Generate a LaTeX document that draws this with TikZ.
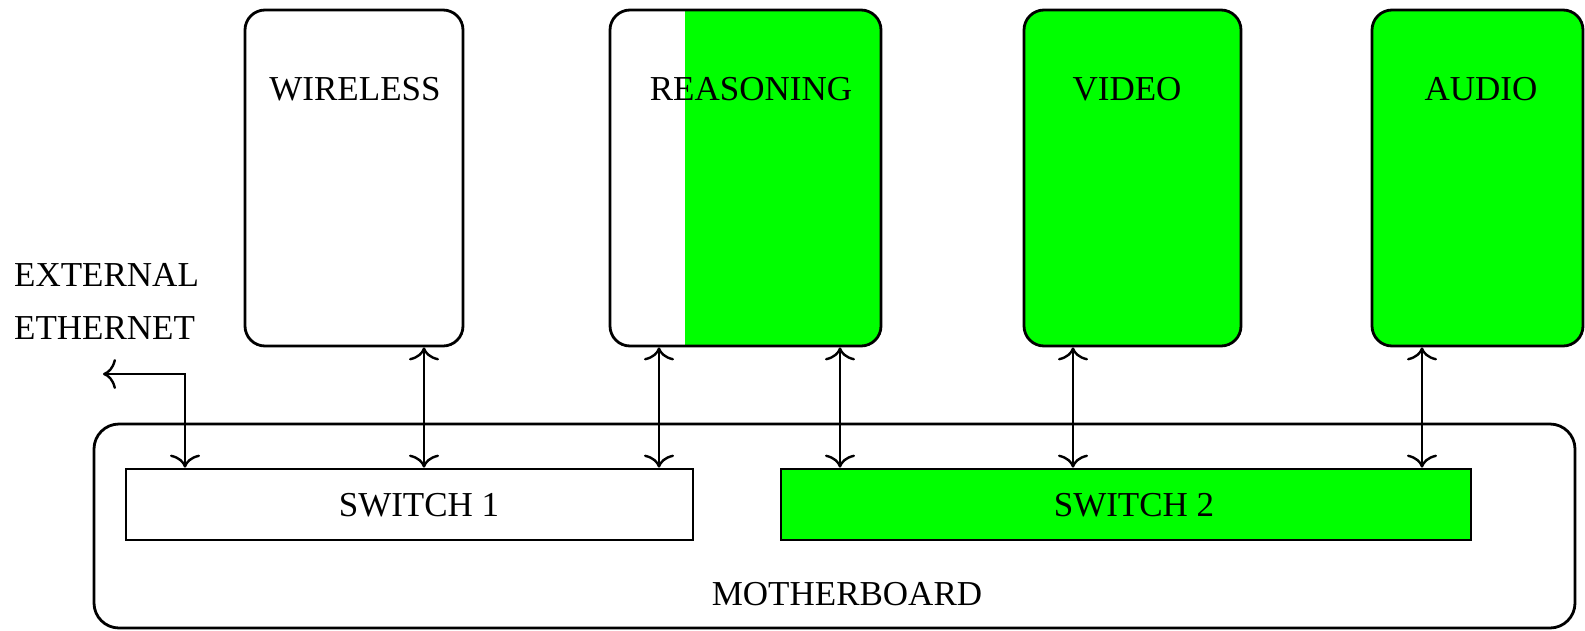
\documentclass[tikz,border=0pt]{standalone}
\usepackage{fontspec}
\setmainfont{Liberation Serif}
\usetikzlibrary{arrows.meta}
\definecolor{brightgreen}{HTML}{00FF00}
\begin{document}
\begin{tikzpicture}[x=1pt,y=-1pt,
  every node/.style={font=\fontsize{35}{53}\selectfont},
  modbox/.style={draw=black,line width=2.8pt,rounded corners=20pt,inner sep=0pt},
  swbox/.style={draw=black,line width=2.8pt,inner sep=0pt,minimum height=71pt},
  lbl/.style={inner sep=0pt,anchor=center},
  link/.style={line width=2.4pt,{To[length=13pt,width=30pt]}-{To[length=13pt,width=30pt]}}
]
\useasboundingbox (0,0) rectangle (1585,630);
% motherboard
\node[modbox,rounded corners=25pt,minimum width=1481pt,minimum height=204pt] (mb) at (834.5,526) {};
\node[lbl] (mbl) at (847,594) {MOTHERBOARD};
% switches
\node[swbox,minimum width=567pt] (sw1) at (409.5,504.5) {};
\node[lbl] (sw1l) at (419,505) {SWITCH 1};
\node[swbox,fill=brightgreen,minimum width=690pt] (sw2) at (1126,504.5) {};
\node[lbl] (sw2l) at (1134,505) {SWITCH 2};
% modules
\node[modbox,minimum width=218pt,minimum height=336pt] (wl) at (354,178) {};
\node[lbl] (wll) at (355,89) {WIRELESS};
\node[modbox,minimum width=271pt,minimum height=336pt,
  path picture={\fill[brightgreen,sharp corners] ([xshift=75pt]path picture bounding box.south west) rectangle (path picture bounding box.north east);}] (rs) at (745.5,178) {};
\node[lbl] (rsl) at (751,89) {REASONING};
\node[modbox,fill=brightgreen,minimum width=217pt,minimum height=336pt] (vd) at (1132.5,178) {};
\node[lbl] (vdl) at (1127,89) {VIDEO};
\node[modbox,fill=brightgreen,minimum width=211pt,minimum height=336pt] (au) at (1477.5,178) {};
\node[lbl] (aul) at (1481,89) {AUDIO};
% external ethernet
\node[lbl,anchor=west,align=left] (ext) at (14,301) {EXTERNAL\\ETHERNET};
% connector columns
\coordinate (c0) at (185,0);
\coordinate (c1) at (424,0);
\coordinate (c2) at (659,0);
\coordinate (c3) at (840,0);
\coordinate (c4) at (1073,0);
\coordinate (c5) at (1422,0);
\coordinate (extend) at (103,374);
% connectors
\draw[link] (wl.south -| c1) -- (sw1.north -| c1);
\draw[link] (rs.south -| c2) -- (sw1.north -| c2);
\draw[link] (rs.south -| c3) -- (sw2.north -| c3);
\draw[link] (vd.south -| c4) -- (sw2.north -| c4);
\draw[link] (au.south -| c5) -- (sw2.north -| c5);
\draw[link] (sw1.north -| c0) |- (extend);
\end{tikzpicture}
\end{document}
